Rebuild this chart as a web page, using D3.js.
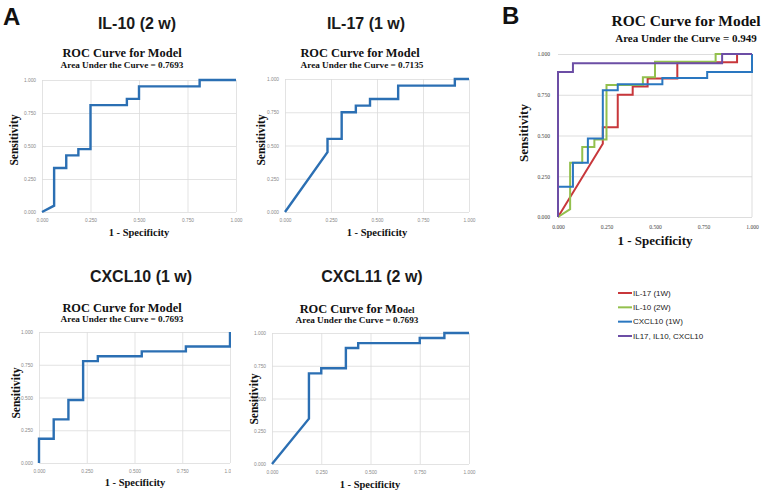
<!DOCTYPE html>
<html><head><meta charset="utf-8">
<script src="https://cdn.jsdelivr.net/npm/d3@7"></script>
<style>html,body{margin:0;padding:0;background:#fff;} svg{display:block;}</style>
</head><body>
<svg id="c" width="766" height="493"></svg>
<script>
// ---------- data ----------
const tickValues = [0, 0.25, 0.5, 0.75, 1];
const tickLabels = ["0.000", "0.250", "0.500", "0.750", "1.000"];

const il10Fpr = [0, 0.0625, 0.0625, 0.125, 0.125, 0.1875, 0.1875, 0.25, 0.25, 0.4375, 0.4375, 0.5, 0.5, 0.8125, 0.8125, 1.0];
const il10Tpr = [0, 0.048, 0.333, 0.333, 0.429, 0.429, 0.476, 0.476, 0.810, 0.810, 0.857, 0.857, 0.952, 0.952, 1.0, 1.0];

const il17Fpr = [0, 0.231, 0.231, 0.308, 0.308, 0.385, 0.385, 0.462, 0.462, 0.615, 0.615, 0.923, 0.923, 1.0];
const il17Tpr = [0, 0.45, 0.55, 0.55, 0.75, 0.75, 0.80, 0.80, 0.85, 0.85, 0.95, 0.95, 1.0, 1.0];

const cxcl10Fpr = [0, 0, 0.077, 0.077, 0.154, 0.154, 0.231, 0.231, 0.308, 0.308, 0.538, 0.538, 0.769, 0.769, 1.0, 1.0];
const cxcl10Tpr = [0, 0.185, 0.185, 0.333, 0.333, 0.481, 0.481, 0.778, 0.778, 0.815, 0.815, 0.852, 0.852, 0.889, 0.889, 1.0];

const cxcl11Fpr = [0, 0.1875, 0.1875, 0.25, 0.25, 0.375, 0.375, 0.4375, 0.4375, 0.75, 0.75, 0.875, 0.875, 1.0];
const cxcl11Tpr = [0, 0.346, 0.692, 0.692, 0.731, 0.731, 0.885, 0.885, 0.923, 0.923, 0.962, 0.962, 1.0, 1.0];

const combinedFpr = [0, 0, 0.077, 0.077, 0.846, 0.846, 1.0];
const combinedTpr = [0, 0.889, 0.889, 0.944, 0.944, 1.0, 1.0];

const panelTitles = ["IL-10 (2 w)", "IL-17 (1 w)", "CXCL10 (1 w)", "CXCL11 (2 w)"];
const aucTexts = ["Area Under the Curve = 0.7693", "Area Under the Curve = 0.7135",
                  "Area Under the Curve = 0.7693", "Area Under the Curve = 0.7693",
                  "Area Under the Curve = 0.949"];
const chartTitle = "ROC Curve for Model";
const xTitle = "1 - Specificity";
const yTitle = "Sensitivity";
const legendLabels = ["IL-17 (1W)", "IL-10 (2W)", "CXCL10 (1W)", "IL17, IL10, CXCL10"];
const panelLetters = ["A", "B"];

// ---------- drawing ----------
const svg = d3.select("#c");
svg.append("rect").attr("width", 766).attr("height", 493).attr("fill", "#fff");
const SERIF = "'Liberation Serif','Times New Roman',serif";
const SANS = "'Liberation Sans',Arial,Helvetica,sans-serif";
const A_BLUE = "#2b6fb3";

function toPts(f, t) { return f.map((d, i) => [d, t[i]]); }

function chart(o) {
  const g = svg.append("g");
  if (o.bg) g.append("rect").attr("x", o.bg[0]).attr("y", o.bg[1]).attr("width", o.bg[2]).attr("height", o.bg[3]).attr("fill", "#fff");
  const x = d3.scaleLinear().domain([0, 1]).range([o.l, o.r]);
  const y = d3.scaleLinear().domain([0, 1]).range([o.b, o.t]);
  const pw = o.r - o.l, ph = o.b - o.t;

  const xa = g.append("g").attr("transform", `translate(0,${o.b})`)
    .call(d3.axisBottom(x).tickValues(tickValues).tickFormat((d, i) => tickLabels[i])
      .tickSize(o.vgrid ? -ph : 0).tickPadding(o.xPad));
  xa.select(".domain").remove();
  xa.selectAll("line").attr("stroke", o.gridColor).attr("stroke-width", 0.8);
  xa.selectAll("text").attr("font-family", o.tickFont).attr("font-size", o.tickSize).attr("fill", o.tickColor);

  const ya = g.append("g").attr("transform", `translate(${o.l},0)`)
    .call(d3.axisLeft(y).tickValues(tickValues).tickFormat((d, i) => tickLabels[i])
      .tickSize(-pw).tickPadding(o.yPad));
  ya.select(".domain").remove();
  ya.selectAll("line").attr("stroke", o.gridColor).attr("stroke-width", 0.8);
  ya.selectAll("text").attr("font-family", o.tickFont).attr("font-size", o.tickSize).attr("fill", o.tickColor);

  if (!o.vgrid) {
    g.append("line").attr("x1", x(1)).attr("x2", x(1)).attr("y1", y(0)).attr("y2", y(1))
      .attr("stroke", o.gridColor).attr("stroke-width", 0.8);
  }

  const line = d3.line().x(d => x(d[0])).y(d => y(d[1]));
  o.series.forEach(s => {
    g.append("path").attr("d", line(toPts(s.f, s.t))).attr("fill", "none")
      .attr("stroke", s.color).attr("stroke-width", s.w).attr("stroke-linejoin", "miter");
  });

  if (o.panelTitle) {
    g.append("text").attr("x", o.panelTitle[0]).attr("y", o.panelTitle[1]).attr("text-anchor", "middle")
      .attr("font-family", SANS).attr("font-weight", "bold").attr("font-size", 16).attr("fill", "#1a1a1a").text(o.panelTitleText);
  }
  const rt = g.append("text").attr("x", o.roc[0]).attr("y", o.roc[1]).attr("text-anchor", "middle")
    .attr("font-family", SERIF).attr("font-weight", "bold").attr("font-size", o.rocSize).attr("fill", "#111");
  if (o.smallDel) {
    rt.append("tspan").text(chartTitle.slice(0, -3));
    rt.append("tspan").attr("font-size", o.rocSize * 0.72).text(chartTitle.slice(-3));
  } else rt.text(chartTitle);
  g.append("text").attr("x", o.auc[0]).attr("y", o.auc[1]).attr("text-anchor", "middle")
    .attr("font-family", SERIF).attr("font-weight", "bold").attr("font-size", o.aucSize).attr("fill", "#111").text(o.aucText);
  g.append("text").attr("transform", `translate(${o.ylab[0]},${o.ylab[1]}) rotate(-90)`).attr("text-anchor", "middle")
    .attr("font-family", SERIF).attr("font-weight", "bold").attr("font-size", o.labSize).attr("fill", "#111").text(yTitle);
  g.append("text").attr("x", o.xlab[0]).attr("y", o.xlab[1]).attr("text-anchor", "middle")
    .attr("font-family", SERIF).attr("font-weight", "bold").attr("font-size", o.xlabSize || o.labSize).attr("fill", "#111").text(xTitle);
}

const aCommon = { vgrid: true, gridColor: "#dcdcdc", tickFont: SANS, tickSize: 4.8, tickColor: "#8a8a8a",
  xPad: 7, yPad: 6, rocSize: 12.4, aucSize: 9.2, labSize: 11.5, xlabSize: 10.5 };

chart(Object.assign({}, aCommon, { l: 42, r: 236, t: 80, b: 212, panelTitle: [137, 29], panelTitleText: panelTitles[0],
  roc: [122, 57], auc: [122, 68], aucText: aucTexts[0], ylab: [18, 140], xlab: [139, 236],
  series: [{ f: il10Fpr, t: il10Tpr, color: A_BLUE, w: 2.4 }] }));

chart(Object.assign({}, aCommon, { l: 285, r: 469, t: 79, b: 212, panelTitle: [366, 29], panelTitleText: panelTitles[1],
  roc: [360, 57], auc: [362, 68], aucText: aucTexts[1], ylab: [265, 140], xlab: [377, 236],
  series: [{ f: il17Fpr, t: il17Tpr, color: A_BLUE, w: 2.4 }] }));

chart(Object.assign({}, aCommon, { l: 39, r: 230, t: 332, b: 463, panelTitle: [141, 282], panelTitleText: panelTitles[2],
  roc: [122, 312], auc: [122, 322], aucText: aucTexts[2], ylab: [20, 393], xlab: [135, 486],
  series: [{ f: cxcl10Fpr, t: cxcl10Tpr, color: A_BLUE, w: 2.4 }] }));

chart(Object.assign({}, aCommon, { bg: [231, 250, 280, 243], l: 272, r: 469, t: 333, b: 464, panelTitle: [372, 282], panelTitleText: panelTitles[3],
  roc: [357, 313], auc: [357, 323], aucText: aucTexts[3], ylab: [258, 399], xlab: [370, 488], smallDel: true,
  series: [{ f: cxcl11Fpr, t: cxcl11Tpr, color: A_BLUE, w: 2.4 }] }));

const B_COLORS = ["#c8373b", "#93c04d", "#2a77c0", "#6c4ea5"];
chart({ vgrid: false, gridColor: "#d4d4d4", tickFont: SERIF, tickSize: 5.6, tickColor: "#444",
  xPad: 8, yPad: 8, rocSize: 15.5, aucSize: 11, labSize: 13, xlabSize: 13,
  l: 558, r: 752, t: 54, b: 217, roc: [686, 26], auc: [686, 42], aucText: aucTexts[4], ylab: [528, 133], xlab: [655, 245],
  series: [
    { f: il17Fpr, t: il17Tpr, color: B_COLORS[0], w: 2 },
    { f: il10Fpr, t: il10Tpr, color: B_COLORS[1], w: 2 },
    { f: cxcl10Fpr, t: cxcl10Tpr, color: B_COLORS[2], w: 2 },
    { f: combinedFpr, t: combinedTpr, color: B_COLORS[3], w: 2 }
  ] });

const lg = svg.append("g");
const ly = d3.scalePoint().domain(legendLabels).range([293, 336]);
legendLabels.forEach((lab, i) => {
  lg.append("line").attr("x1", 618).attr("x2", 632).attr("y1", ly(lab)).attr("y2", ly(lab))
    .attr("stroke", B_COLORS[i]).attr("stroke-width", 2);
  lg.append("text").attr("x", 633).attr("y", ly(lab)).attr("dy", "0.35em")
    .attr("font-family", SANS).attr("font-size", 8).attr("fill", "#222").text(lab);
});

svg.append("text").attr("x", 3).attr("y", 25).attr("font-family", SANS).attr("font-weight", "bold")
  .attr("font-size", 24).attr("fill", "#111").text(panelLetters[0]);
svg.append("text").attr("x", 502).attr("y", 24).attr("font-family", SANS).attr("font-weight", "bold")
  .attr("font-size", 24).attr("fill", "#111").text(panelLetters[1]);
</script>
</body></html>
